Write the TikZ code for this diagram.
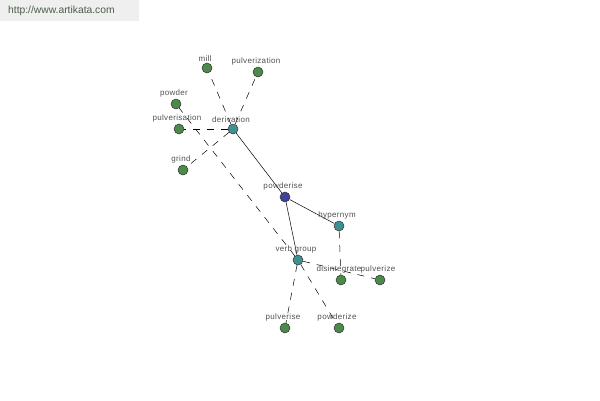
\documentclass[tikz,border=0pt]{standalone}
\usepackage{fontspec}
\setmainfont{Liberation Sans}
\newfontfamily\wordfont[LetterSpace=4]{Liberation Sans}
\usetikzlibrary{positioning,backgrounds}
\definecolor{leafgreen}{HTML}{4b8a4b}
\definecolor{relteal}{HTML}{3f9090}
\definecolor{rootblue}{HTML}{40409e}
\definecolor{labelgray}{HTML}{505050}
\definecolor{markgray}{HTML}{efefef}
\definecolor{marktext}{HTML}{4a5e4a}

\begin{document}
\begin{tikzpicture}[x=1pt,y=-1pt,
    word/.style={circle, draw=black!80, line width=0.5pt, minimum size=10pt, inner sep=0pt,
        label={[labelgray, font=\wordfont\fontsize{8}{9}\selectfont, inner sep=1pt, xshift=-2pt]above:#1}},
    leaf/.style={word=#1, fill=leafgreen},
    rel/.style={word=#1, fill=relteal},
    root/.style={word=#1, fill=rootblue},
    link/.style={black, line width=0.5pt},
    dlink/.style={black, line width=0.5pt, dash pattern=on 7pt off 7pt}]

    \useasboundingbox (0,0) rectangle (600,400);
    \fill[markgray] (0,0) rectangle (139,21);
    \node[marktext, font=\fontsize{10.3}{11}\selectfont, anchor=west, inner sep=0pt] (site) at (8,11) {http://www.artikata.com};

    % word nodes
    \node[root=powderise] (powderise) at (285,197) {};
    \node[rel=derivation] (derivation) at (233,129) {};
    \node[rel=hypernym] (hypernym) at (339,226) {};
    \node[rel={verb group}] (verbgroup) at (298,260) {};

    \node[leaf=mill] (mill) at (207,68) {};
    \node[leaf=pulverization] (pulverization) at (258,72) {};
    \node[leaf=powder] (powder) at (176,104) {};
    \node[leaf=pulverisation] (pulverisation) at (179,129) {};
    \node[leaf=grind] (grind) at (183,170) {};
    \node[leaf=disintegrate] (disintegrate) at (341,280) {};
    \node[leaf=pulverize] (pulverize) at (380,280) {};
    \node[leaf=pulverise] (pulverise) at (285,328) {};
    \node[leaf=powderize] (powderize) at (339,328) {};

    % edges behind the nodes
    \begin{scope}[on background layer]
    \draw[link] (derivation) -- (powderise);
    \draw[link] (powderise) -- (hypernym);
    \draw[link] (powderise) -- (verbgroup);

    \draw[dlink] (derivation) -- (mill);
    \draw[dlink] (derivation) -- (pulverization);
    \draw[dlink] (derivation) -- (pulverisation);
    \draw[dlink] (derivation) -- (grind);
    \draw[dlink] (verbgroup) -- (powder);
    \draw[dlink] (hypernym) -- (disintegrate);
    \draw[dlink] (verbgroup) -- (pulverize);
    \draw[dlink] (verbgroup) -- (pulverise);
    \draw[dlink] (verbgroup) -- (powderize);
    \end{scope}

\end{tikzpicture}
\end{document}
